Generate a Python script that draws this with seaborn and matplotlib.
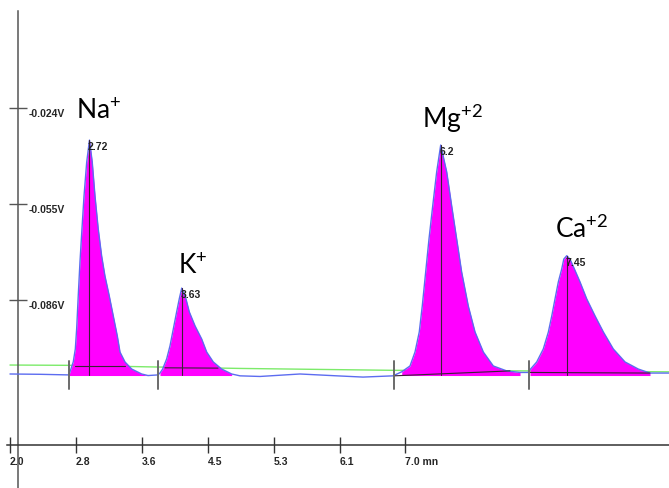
import numpy as np
import matplotlib
matplotlib.use('Agg')
import matplotlib.pyplot as plt
import seaborn as sns

# detector signal (min, V)
signal_time = [2.000, 2.379, 2.746, 2.759, 2.800, 2.826, 2.843, 2.863, 2.885, 2.910,
               2.936, 2.970, 3.005, 3.040, 3.075, 3.116, 3.159, 3.201, 3.255, 3.306,
               3.357, 3.391, 3.454, 3.539, 3.665, 3.745, 3.871,
               3.896, 3.930, 3.981, 4.023, 4.065, 4.107, 4.140, 4.171, 4.225, 4.267,
               4.339, 4.424, 4.487, 4.570, 4.676, 4.803, 4.908, 5.161, 5.666, 6.134,
               6.463, 6.842,
               6.952, 7.057, 7.120, 7.174, 7.212, 7.255, 7.297, 7.344, 7.394, 7.445,
               7.521, 7.584, 7.647, 7.710, 7.794, 7.879, 7.984, 8.110, 8.279, 8.448,
               8.549,
               8.574, 8.659, 8.742, 8.806, 8.849, 8.890, 8.932, 8.975, 9.001, 9.039,
               9.081, 9.135, 9.206, 9.291, 9.396, 9.501, 9.627, 9.775, 9.943, 10.091,
               10.331]
signal_volt = [-0.1101, -0.1102, -0.1104, -0.1094, -0.1062, -0.1020, -0.0955, -0.0848, -0.0738, -0.0632,
               -0.0525, -0.0415, -0.0344, -0.0415, -0.0525, -0.0632, -0.0719, -0.0784, -0.0848, -0.0913,
               -0.0978, -0.1030, -0.1062, -0.1085, -0.1101, -0.1106, -0.1104,
               -0.1098, -0.1085, -0.1052, -0.1010, -0.0955, -0.0900, -0.0858, -0.0823, -0.0858, -0.0900,
               -0.0945, -0.0988, -0.1030, -0.1062, -0.1085, -0.1101, -0.1107, -0.1109, -0.1101, -0.1107,
               -0.1111, -0.1107,
               -0.1094, -0.1075, -0.1030, -0.0965, -0.0881, -0.0771, -0.0664, -0.0557, -0.0447, -0.0360,
               -0.0447, -0.0557, -0.0664, -0.0771, -0.0881, -0.0965, -0.1030, -0.1075, -0.1091, -0.1096,
               -0.1096,
               -0.1087, -0.1062, -0.1020, -0.0965, -0.0913, -0.0858, -0.0803, -0.0761, -0.0729, -0.0718,
               -0.0730, -0.0761, -0.0803, -0.0858, -0.0913, -0.0965, -0.1020, -0.1062, -0.1085, -0.1098,
               -0.1098]

# green reference baseline
drift_time = [2.000, 2.759, 3.770, 4.908, 6.804, 8.574, 10.331]
drift_volt = [-0.1072, -0.1073, -0.1078, -0.1083, -0.1089, -0.1091, -0.1094]

# peaks
ion_labels = [r'Na$^\mathregular{+}$', r'K$^\mathregular{+}$',
              r'Mg$^\mathregular{+2}$', r'Ca$^\mathregular{+2}$']
rt_labels = ['2.72', '3.63', '6.2', '7.45']
peak_start = [2.746, 3.875, 6.855, 8.555]
peak_end = [3.745, 4.803, 8.448, 10.20]
# integration baselines drawn under each peak
base_t0 = [2.820, 3.960, 6.855, 8.574]
base_t1 = [3.450, 4.630, 8.321, 10.091]
base_v0 = [-0.1075, -0.1081, -0.1107, -0.1096]
base_v1 = [-0.1075, -0.1082, -0.1091, -0.1098]

x_ticks = [2.0, 2.833, 3.667, 4.5, 5.333, 6.167, 7.0]
x_tick_labels = ['2.0', '2.8', '3.6', '4.5', '5.3', '6.1', '7.0 mn']
y_ticks = [-0.024, -0.055, -0.086]
y_tick_labels = ['-0.024V', '-0.055V', '-0.086V']

sns.set_style('white')
plt.rcParams['font.family'] = ['Lato', 'DejaVu Sans']
small_font = ['Liberation Sans Narrow', 'Liberation Sans', 'DejaVu Sans']

fig = plt.figure(figsize=(6.69, 4.89), dpi=100)
ax = fig.add_axes([0, 0, 1, 1])
ax.set_xlim(1.874, 10.331)
ax.set_ylim(-0.1470, 0.01127)

t = np.array(signal_time)
v = np.array(signal_volt)
floor = -0.1106

sns.lineplot(x=drift_time, y=drift_volt, ax=ax, color='#7CEB6A', lw=1.0,
             estimator=None, sort=False, zorder=1)

for i in range(len(rt_labels)):
    m = (t >= peak_start[i] - 1e-6) & (t <= peak_end[i] + 1e-6)
    ax.fill_between(t[m], v[m], floor, color='#FF00FF', lw=0, zorder=2)

sns.lineplot(x=signal_time, y=signal_volt, ax=ax, color='#5C6CF0', lw=1.0,
             estimator=None, sort=False, zorder=3)

for i in range(len(rt_labels)):
    m = (t >= peak_start[i]) & (t <= peak_end[i])
    k = np.argmax(np.where(m, v, -1))
    ax.plot([t[k], t[k]], [v[k], floor + 0.0002], color='#3a2235', lw=0.8, zorder=4)
    ax.plot([base_t0[i], base_t1[i]], [base_v0[i], base_v1[i]],
            color='#3a2235', lw=0.8, zorder=4)
    ax.plot([peak_start[i], peak_start[i]], [-0.1059, -0.1149],
            color='#6a6a6a', lw=1.4, zorder=4)
    ax.annotate(rt_labels[i], (t[k], v[k]), xytext=(-1, -1), textcoords='offset points',
                ha='left', va='top', fontsize=7.5, fontweight='bold',
                family=small_font, color='#222222', zorder=5)

label_offsets = [(-10, 16.5), (-3, 11), (-13.7, 13), (-8.6, 13.3)]
for i in range(len(ion_labels)):
    m = (t >= peak_start[i]) & (t <= peak_end[i])
    k = np.argmax(np.where(m, v, -1))
    ax.annotate(ion_labels[i], (t[k], v[k]), xytext=label_offsets[i],
                textcoords='offset points', ha='left', va='baseline',
                fontsize=19, color='black')

# axes drawn like the instrument printout
ax.spines['top'].set_visible(False)
ax.spines['left'].set_visible(False)
ax.spines['bottom'].set_position(('data', -0.1331))
ax.spines['right'].set_position(('data', 2.101))
ax.spines['bottom'].set_bounds(1.962, 10.331)
ax.spines['right'].set_bounds(-0.1470, 0.0074)
ax.spines['bottom'].set_color('#333333')
ax.spines['right'].set_color('#555555')
ax.spines['bottom'].set_linewidth(1.1)
ax.spines['right'].set_linewidth(1.1)

ax.yaxis.tick_right()
ax.set_xticks(x_ticks)
ax.set_xticklabels(x_tick_labels)
ax.set_yticks(y_ticks)
ax.set_yticklabels(y_tick_labels)
ax.tick_params(axis='x', direction='inout', length=11.5, width=1.0, pad=2,
               color='#333333', labelsize=7.5, bottom=True)
ax.tick_params(axis='y', direction='inout', length=13, width=1.0, pad=1.5,
               color='#555555', labelsize=7.5, right=True)
for lbl in ax.get_xticklabels():
    lbl.set_horizontalalignment('left')
    lbl.set_fontweight('bold')
    lbl.set_family(small_font)
for lbl in ax.get_yticklabels():
    lbl.set_verticalalignment('top')
    lbl.set_fontweight('bold')
    lbl.set_family(small_font)

fig.savefig('out.png', dpi=100)
